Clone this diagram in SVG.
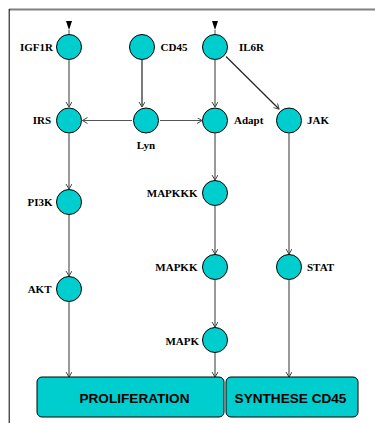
<svg xmlns="http://www.w3.org/2000/svg" width="375" height="423" viewBox="0 0 375 423">
<style>
.n{fill:#00CDCD;stroke:#000;stroke-width:1}
.l{font-family:"Liberation Serif",serif;font-weight:bold;font-size:11px;fill:#000}
.b{fill:#00CDCD;stroke:#000;stroke-width:1}
.bl{font-family:"Liberation Sans",Arial,sans-serif;font-weight:bold;font-size:13.6px;fill:#000;text-anchor:middle}
.e{stroke:#555;stroke-width:1.2;fill:none;marker-end:url(#ah)}
</style>
<defs>
<marker id="ah" markerWidth="8" markerHeight="8" refX="6" refY="3" orient="auto" markerUnits="userSpaceOnUse">
<path d="M1,0 L6,3 L1,6" fill="none" stroke="#444" stroke-width="1"/>
</marker>
</defs>
<rect width="375" height="423" fill="#fff"/>
<line x1="9" y1="9.5" x2="375" y2="9.5" stroke="#808080" stroke-width="1.8"/>
<line x1="9.2" y1="9" x2="9.2" y2="423" stroke="#000" stroke-width="1"/>
<g id="connectors">
<path d="M66,21 L72,21 L69,30 Z" fill="#000"/>
<line x1="69" y1="30" x2="69" y2="34" stroke="#555"/>
<path d="M212,21 L218,21 L215,30 Z" fill="#000"/>
<line x1="215" y1="30" x2="215" y2="34" stroke="#555"/>
<line class="e" x1="69" y1="60" x2="69" y2="107"/>
<line class="e" x1="142" y1="60" x2="142" y2="107" style="stroke:#222"/>
<line class="e" x1="215" y1="60" x2="215" y2="107"/>
<line class="e" x1="226" y1="56.5" x2="279" y2="109" style="stroke:#222"/>
<line class="e" x1="132" y1="120.5" x2="82.5" y2="120.5"/>
<line class="e" x1="160" y1="120.5" x2="202" y2="120.5"/>
<line class="e" x1="69" y1="133.5" x2="69" y2="189"/>
<line class="e" x1="69" y1="215" x2="69" y2="276"/>
<line class="e" x1="69" y1="302" x2="69" y2="377"/>
<line class="e" x1="215" y1="133.5" x2="215" y2="180"/>
<line class="e" x1="215" y1="206" x2="215" y2="254"/>
<line class="e" x1="215" y1="280" x2="215" y2="327"/>
<line class="e" x1="215" y1="353" x2="215" y2="377"/>
<line class="e" x1="289" y1="133.5" x2="289" y2="254"/>
<line class="e" x1="289" y1="280" x2="289" y2="377"/>
</g>
<g id="IGF1R"><circle class="n" cx="69" cy="47" r="12.5"/><text class="l" x="53" y="50.5" text-anchor="end">IGF1R</text></g>
<g id="CD45"><circle class="n" cx="142" cy="47" r="12.5"/><text class="l" x="160.5" y="50.5">CD45</text></g>
<g id="IL6R"><circle class="n" cx="215" cy="47" r="12.5"/><text class="l" x="239" y="50.5">IL6R</text></g>
<g id="IRS"><circle class="n" cx="69" cy="120.5" r="12.5"/><text class="l" x="51" y="124" text-anchor="end">IRS</text></g>
<g id="Lyn"><circle class="n" cx="146" cy="120.5" r="12.5"/><text class="l" x="146" y="148.5" text-anchor="middle">Lyn</text></g>
<g id="Adapt"><circle class="n" cx="215" cy="120.5" r="12.5"/><text class="l" x="234" y="124">Adapt</text></g>
<g id="JAK"><circle class="n" cx="289" cy="120.5" r="12.5"/><text class="l" x="307" y="124">JAK</text></g>
<g id="PI3K"><circle class="n" cx="69" cy="202" r="12.5"/><text class="l" x="52.5" y="206" text-anchor="end">PI3K</text></g>
<g id="MAPKKK"><circle class="n" cx="215" cy="193" r="12.5"/><text class="l" x="197.5" y="197" text-anchor="end">MAPKKK</text></g>
<g id="MAPKK"><circle class="n" cx="215" cy="267" r="12.5"/><text class="l" x="197.5" y="271" text-anchor="end">MAPKK</text></g>
<g id="STAT"><circle class="n" cx="289" cy="267" r="12.5"/><text class="l" x="307" y="271">STAT</text></g>
<g id="AKT"><circle class="n" cx="69" cy="289" r="12.5"/><text class="l" x="51.5" y="293" text-anchor="end">AKT</text></g>
<g id="MAPK"><circle class="n" cx="215" cy="340" r="12.5"/><text class="l" x="199" y="344.5" text-anchor="end">MAPK</text></g>
<g id="PROLIFERATION"><rect class="b" x="37" y="377" width="187" height="40" rx="5"/><text class="bl" x="134.5" y="403">PROLIFERATION</text></g>
<g id="SYNTHESE_CD45"><rect class="b" x="226" y="377" width="132" height="40" rx="5"/><text class="bl" x="290.5" y="403">SYNTHESE CD45</text></g>
</svg>
